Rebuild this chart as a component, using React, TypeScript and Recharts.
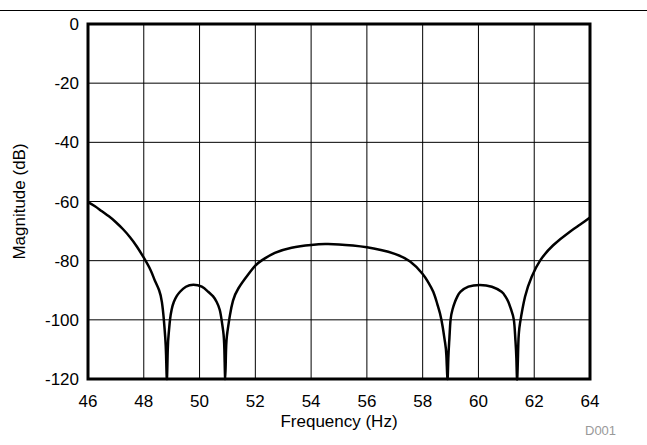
import React from 'react';
import { LineChart, Line, XAxis, YAxis, CartesianGrid, ReferenceArea } from 'recharts';

// frequency (Hz) and magnitude (dB)
const freqs = [
  46.0, 46.25, 46.5, 46.75, 47.0, 47.25, 47.5, 47.75, 48.0, 48.25, 48.4, 48.55, 48.65, 48.72, 48.77, 48.8,
  48.83, 48.86, 48.9, 48.94, 49.0, 49.08, 49.18, 49.3, 49.51, 49.78, 50.08, 50.31, 50.48, 50.61, 50.72,
  50.79, 50.85, 50.89, 50.92, 50.95, 51.0, 51.09, 51.2, 51.39, 51.75, 52.0, 52.23, 52.7, 53.3, 54.0,
  54.5, 55.0, 55.5, 56.0, 56.5, 57.0, 57.55, 58.0, 58.2, 58.38, 58.52, 58.62, 58.72, 58.8, 58.85,
  58.89, 58.92, 58.96, 59.0, 59.07, 59.16, 59.25, 59.36, 59.64, 60.05, 60.48, 60.83, 60.96, 61.07,
  61.17, 61.27, 61.32, 61.36, 61.39, 61.43, 61.49, 61.67, 61.91, 62.21, 62.68, 63.28, 63.65, 64.0,
];
const magnitude = [
  -60.2, -61.6, -63.3, -65.0, -67.0, -69.3, -72.0, -75.2, -79.0, -83.3, -86.8, -90.0, -94.0, -100.0, -106.0, -112.0,
  -120.0, -110.0, -104.0, -100.0, -96.5, -93.9, -92.0, -90.5, -88.8, -88.1, -88.8, -90.5, -92.0, -93.9, -96.5,
  -100.0, -104.0, -110.0, -120.0, -110.0, -104.0, -98.4, -93.5, -89.4, -84.6, -81.7, -79.9, -77.4, -75.6, -74.7,
  -74.4, -74.5, -74.9, -75.5, -76.4, -77.7, -80.3, -84.5, -87.3, -90.5, -94.5, -97.8, -102.5, -107.5, -112.0,
  -120.0, -113.0, -106.0, -100.0, -96.5, -93.9, -92.0, -90.5, -88.8, -88.2, -88.8, -90.5, -92.0, -93.9,
  -96.5, -100.0, -106.0, -113.0, -120.0, -108.0, -101.2, -92.2, -85.4, -80.0, -74.8, -70.2, -67.8, -65.4,
];
const xTicks = [46, 48, 50, 52, 54, 56, 58, 60, 62, 64];
const yTicks = [-120, -100, -80, -60, -40, -20, 0];

const data = freqs.map((f, i) => ({ f, mag: magnitude[i] }));

const tickStyle = { fill: '#000', fontSize: 17 };

export default function App() {
  return (
    <div
      style={{
        position: 'absolute', left: 0, top: 0, width: 647, height: 445,
        background: '#fff', fontFamily: '"Liberation Sans", Arial, sans-serif',
      }}
    >
      {/* rule across the top */}
      <div style={{ position: 'absolute', left: 0, top: 10, width: 647, height: 1, background: '#000' }} />

      <LineChart width={647} height={445} data={data} margin={{ top: 24, right: 57, left: 0, bottom: 16 }}>
        <CartesianGrid stroke="#000" strokeWidth={1} />
        <XAxis
          dataKey="f"
          type="number"
          domain={[46, 64]}
          ticks={xTicks}
          tickSize={0}
          tickMargin={16}
          axisLine={false}
          tick={tickStyle}
          height={50}
          label={{ value: 'Frequency (Hz)', position: 'insideBottom', offset: 2, style: { fill: '#000', fontSize: 17 } }}
        />
        <YAxis
          type="number"
          domain={[-120, 0]}
          ticks={yTicks}
          tickSize={0}
          tickMargin={9}
          axisLine={false}
          tick={tickStyle}
          width={88}
          label={{
            value: 'Magnitude (dB)', angle: -90, position: 'insideLeft', offset: 19,
            style: { textAnchor: 'middle', fill: '#000', fontSize: 17 },
          }}
        />
        <ReferenceArea x1={46} x2={64} y1={-120} y2={0} fill="none" stroke="#000" strokeWidth={3} ifOverflow="visible" />
        <Line
          type="natural"
          dataKey="mag"
          stroke="#000"
          strokeWidth={2.5}
          dot={false}
          isAnimationActive={false}
        />
      </LineChart>

      <span style={{ position: 'absolute', left: 585, top: 423, fontSize: 13, color: '#999' }}>D001</span>
    </div>
  );
}
